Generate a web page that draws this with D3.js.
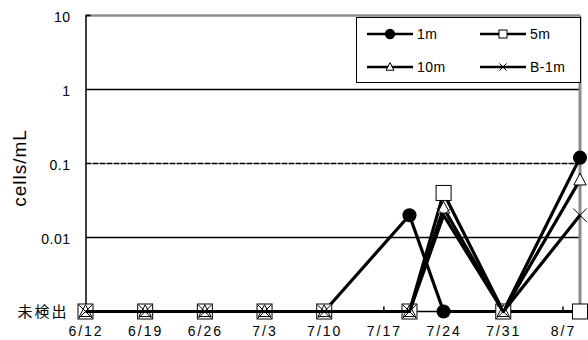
<!DOCTYPE html>
<html>
<head>
<meta charset="utf-8">
<script src="https://cdn.jsdelivr.net/npm/d3@7"></script>
<style>
  body { margin: 0; background: #fff; }
  text { font-family: "Liberation Sans", Arial, "Noto Sans CJK JP", sans-serif; }
</style>
</head>
<body>
<div id="plot_area"></div>
<script>
// sampling dates (m/d) and values in cells/mL, null = 未検出 (not detected)
var sampleDates = ["6/12", "6/19", "6/26", "7/3", "7/10", "7/20", "7/24", "7/31", "8/9"];
var s1m  = [null, null, null, null, null, 0.02, null, null, 0.12];
var s5m  = [null, null, null, null, null, null, 0.04, null, null];
var s10m = [null, null, null, null, null, null, 0.025, null, 0.06];
var sB1m = [null, null, null, null, null, null, 0.02, null, 0.02];
var seriesNames = ["1m", "5m", "10m", "B-1m"];
var tickDates = ["6/12", "6/19", "6/26", "7/3", "7/10", "7/17", "7/24", "7/31", "8/7"];
var yTicks = [10, 1, 0.1, 0.01];
var ndLabel = "未検出";

var width = 588, height = 340;
var margin = {left: 85.5, right: 580, top: 15.5, bottom: 311.5};

function toDate(s) {
  var p = s.split("/");
  return new Date(Date.UTC(2010, +p[0] - 1, +p[1]));
}

var svg = d3.select("#plot_area")
  .append("svg")
    .attr("width", width)
    .attr("height", height);

var x = d3.scaleUtc()
  .domain([toDate("6/12"), toDate("8/9")])
  .range([margin.left, margin.right]);

var y = d3.scaleLog()
  .domain([0.001, 10])
  .range([margin.bottom, margin.top]);

function yv(v) { return v == null ? y(0.001) : y(v); }

// gridlines
svg.append("g").selectAll("line")
  .data([1, 0.1, 0.01])
  .enter().append("line")
    .attr("x1", margin.left).attr("x2", margin.right)
    .attr("y1", function (d) { return y(d); })
    .attr("y2", function (d) { return y(d); })
    .attr("stroke", "#000")
    .attr("stroke-width", 1.3)
    .attr("stroke-dasharray", function (d) { return d === 0.1 ? "6,1" : null; });

// plot area border (top / right grey)
svg.append("line")
  .attr("x1", margin.left).attr("x2", margin.right).attr("y1", margin.top).attr("y2", margin.top)
  .attr("stroke", "#8c8c8c").attr("stroke-width", 2.5);
svg.append("line")
  .attr("x1", margin.right).attr("x2", margin.right).attr("y1", margin.top).attr("y2", margin.bottom)
  .attr("stroke", "#8c8c8c").attr("stroke-width", 3);

// Y axis
var yAxis = svg.append("g")
  .attr("transform", "translate(" + margin.left + ",0)")
  .call(d3.axisLeft(y).tickValues(yTicks).tickSize(0).tickPadding(15)
    .tickFormat(function (d) { return d3.format("~g")(d); }));
yAxis.select(".domain").attr("stroke-width", 1.5);
yAxis.selectAll("text").attr("font-size", 14).attr("fill", "#000")
  .attr("dy", "0.45em")
  .style("letter-spacing", "0.5px")
  .style("font-family", "'Liberation Sans', Arial, sans-serif");
svg.append("line")
  .attr("x1", margin.left).attr("x2", margin.left + 5).attr("y1", margin.top).attr("y2", margin.top)
  .attr("stroke", "#000").attr("stroke-width", 1.5);
svg.append("text")
  .attr("x", margin.left - 17).attr("y", y(0.001)).attr("dy", "0.35em")
  .attr("text-anchor", "end").attr("font-size", 15)
  .style("letter-spacing", "2px")
  .style("font-family", "'Noto Sans CJK JP', sans-serif")
  .text(ndLabel);
svg.append("text")
  .attr("transform", "translate(26," + 168 + ") rotate(-90)")
  .attr("text-anchor", "middle").attr("font-size", 19)
  .style("letter-spacing", "1px")
  .text("cells/mL");

// X axis
var xAxis = svg.append("g")
  .attr("transform", "translate(0," + margin.bottom + ")")
  .call(d3.axisBottom(x).tickValues(tickDates.map(toDate))
    .tickSize(0).tickPadding(15)
    .tickFormat(d3.utcFormat("%-m/%-d")));
xAxis.select(".domain").remove();
xAxis.selectAll("text").attr("font-size", 14).attr("fill", "#000")
  .style("letter-spacing", "2px");
svg.append("g").selectAll("line")
  .data(tickDates.map(toDate))
  .enter().append("line")
    .attr("x1", function (d) { return x(d); })
    .attr("x2", function (d) { return x(d); })
    .attr("y1", margin.bottom).attr("y2", margin.bottom - 5)
    .attr("stroke", "#000").attr("stroke-width", 1.5);
svg.append("line")
  .attr("x1", margin.left).attr("x2", margin.right).attr("y1", margin.bottom).attr("y2", margin.bottom)
  .attr("stroke", "#000").attr("stroke-width", 1.5);

// marker drawing
function marker(g, type, cx, cy, s) {
  if (type === "1m") {
    g.append("circle").attr("cx", cx).attr("cy", cy).attr("r", s * 0.47)
      .attr("fill", "#000");
  } else if (type === "5m") {
    g.append("rect").attr("x", cx - s / 2).attr("y", cy - s / 2)
      .attr("width", s).attr("height", s)
      .attr("fill", "#fff").attr("stroke", "#000").attr("stroke-width", 1);
  } else if (type === "10m") {
    var h = s * 0.8;
    g.append("path")
      .attr("d", "M" + cx + "," + (cy - h * 0.6) + "L" + (cx + h * 0.55) + "," + (cy + h * 0.45) +
        "L" + (cx - h * 0.55) + "," + (cy + h * 0.45) + "Z")
      .attr("fill", "#fff").attr("stroke", "#000").attr("stroke-width", 1);
  } else {
    var r = s * 0.45;
    g.append("path")
      .attr("d", "M" + (cx - r) + "," + (cy - r) + "L" + (cx + r) + "," + (cy + r) +
        "M" + (cx + r) + "," + (cy - r) + "L" + (cx - r) + "," + (cy + r))
      .attr("fill", "none").attr("stroke", "#000").attr("stroke-width", 1);
  }
}

var allSeries = [s1m, s5m, s10m, sB1m];
var markerSize = [15, 15, 14, 15];
var line = d3.line()
  .x(function (d, i) { return x(toDate(sampleDates[i])); })
  .y(function (d) { return yv(d); });

allSeries.forEach(function (vals, k) {
  var g = svg.append("g");
  g.append("path")
    .attr("d", line(vals))
    .attr("fill", "none").attr("stroke", "#000").attr("stroke-width", 3.2)
    .attr("stroke-linejoin", "round");
  vals.forEach(function (v, i) {
    marker(g, seriesNames[k], x(toDate(sampleDates[i])), yv(v), markerSize[k]);
  });
});

// legend
var lg = svg.append("g");
lg.append("rect")
  .attr("x", 356.5).attr("y", 17.5).attr("width", 224).attr("height", 65)
  .attr("fill", "#fff").attr("stroke", "#000").attr("stroke-width", 1);
var legendPos = [[367, 34], [480, 34], [367, 67], [480, 67]];
seriesNames.forEach(function (name, k) {
  var lx = legendPos[k][0], ly = legendPos[k][1];
  lg.append("line")
    .attr("x1", lx).attr("x2", lx + 46).attr("y1", ly).attr("y2", ly)
    .attr("stroke", "#000").attr("stroke-width", 2.5);
  marker(lg, name, lx + 23, ly, [11, 8, 9, 8][k]);
  lg.append("text")
    .attr("x", lx + 50).attr("y", ly).attr("dy", "0.36em")
    .attr("font-size", 14).style("letter-spacing", "0.5px").text(name);
});
</script>
</body>
</html>
